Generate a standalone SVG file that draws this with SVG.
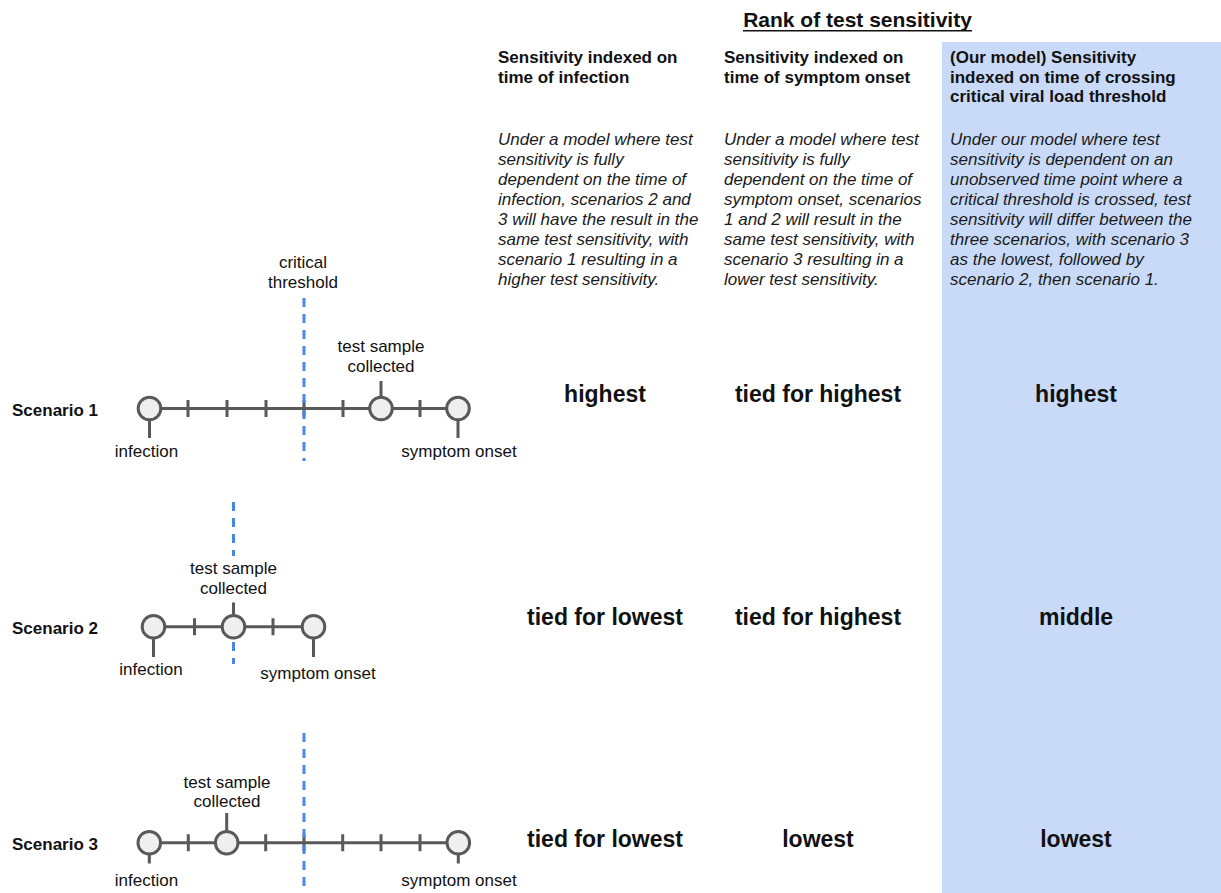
<svg xmlns="http://www.w3.org/2000/svg" width="1221" height="893" viewBox="0 0 1221 893">
<style>
  text { font-family: "Liberation Sans", Arial, sans-serif; fill: #111; }
  .lbl { font-size: 17px; }
  .mid { text-anchor: middle; }
  .scn { font-size: 17px; font-weight: bold; }
  .hdr { font-size: 17px; font-weight: bold; }
  .para { font-size: 17px; font-style: italic; fill: #1a1a1a; }
  .rank { font-size: 23px; font-weight: bold; text-anchor: middle; }
  .title { font-size: 21px; font-weight: bold; text-anchor: middle; }
  .axis { stroke: #595959; stroke-width: 3; fill: none; }
  .node { fill: #efefef; stroke: #595959; stroke-width: 3; }
  .thr { stroke: #4a86e8; stroke-width: 3; stroke-dasharray: 9 7; fill: none; }
</style>

<rect id="our-model-panel" x="942" y="42" width="279" height="851" fill="#c9daf8"/>

<g id="title">
  <text class="title" x="857.5" y="27">Rank of test sensitivity</text>
  <line x1="743" y1="30.7" x2="972" y2="30.7" stroke="#111" stroke-width="1.6"/>
</g>

<g id="col-infection">
  <text class="hdr" x="498" y="63">Sensitivity indexed on</text>
  <text class="hdr" x="498" y="83">time of infection</text>
  <text class="para" x="498" y="145">Under a model where test</text>
  <text class="para" x="498" y="165">sensitivity is fully</text>
  <text class="para" x="498" y="185">dependent on the time of</text>
  <text class="para" x="498" y="205">infection, scenarios 2 and</text>
  <text class="para" x="498" y="225">3 will have the result in the</text>
  <text class="para" x="498" y="245">same test sensitivity, with</text>
  <text class="para" x="498" y="265">scenario 1 resulting in a</text>
  <text class="para" x="498" y="285">higher test sensitivity.</text>
</g>

<g id="col-symptom">
  <text class="hdr" x="724" y="63">Sensitivity indexed on</text>
  <text class="hdr" x="724" y="83">time of symptom onset</text>
  <text class="para" x="724" y="145">Under a model where test</text>
  <text class="para" x="724" y="165">sensitivity is fully</text>
  <text class="para" x="724" y="185">dependent on the time of</text>
  <text class="para" x="724" y="205">symptom onset, scenarios</text>
  <text class="para" x="724" y="225">1 and 2 will result in the</text>
  <text class="para" x="724" y="245">same test sensitivity, with</text>
  <text class="para" x="724" y="265">scenario 3 resulting in a</text>
  <text class="para" x="724" y="285">lower test sensitivity.</text>
</g>

<g id="col-our-model">
  <text class="hdr" x="950" y="63">(Our model) Sensitivity</text>
  <text class="hdr" x="950" y="83">indexed on time of crossing</text>
  <text class="hdr" x="950" y="102">critical viral load threshold</text>
  <text class="para" x="950" y="145">Under our model where test</text>
  <text class="para" x="950" y="165">sensitivity is dependent on an</text>
  <text class="para" x="950" y="185">unobserved time point where a</text>
  <text class="para" x="950" y="205">critical threshold is crossed, test</text>
  <text class="para" x="950" y="225">sensitivity will differ between the</text>
  <text class="para" x="950" y="245">three scenarios, with scenario 3</text>
  <text class="para" x="950" y="265">as the lowest, followed by</text>
  <text class="para" x="950" y="285">scenario 2, then scenario 1.</text>
</g>

<g id="ranks">
  <text class="rank" x="605" y="402">highest</text>
  <text class="rank" x="818" y="402">tied for highest</text>
  <text class="rank" x="1076" y="402">highest</text>
  <text class="rank" x="605" y="625">tied for lowest</text>
  <text class="rank" x="818" y="625">tied for highest</text>
  <text class="rank" x="1076" y="625">middle</text>
  <text class="rank" x="605" y="847">tied for lowest</text>
  <text class="rank" x="818" y="847">lowest</text>
  <text class="rank" x="1076" y="847">lowest</text>
</g>

<g id="scenario-1">
  <text class="scn" x="12" y="416">Scenario 1</text>
  <text class="lbl mid" x="303" y="268">critical</text>
  <text class="lbl mid" x="303" y="288">threshold</text>
  <line class="axis" x1="149.5" y1="408.5" x2="458" y2="408.5"/>
  <path class="axis" d="M188 400v17M227 400v17M266 400v17M304 400v17M343 400v17M420 400v17"/>
  <path class="axis" d="M149.5 421v17M458 421v17M381 396v-15"/>
  <circle class="node" cx="149.5" cy="408.5" r="11.3"/>
  <circle class="node" cx="381" cy="408.5" r="11.3"/>
  <circle class="node" cx="458" cy="408.5" r="11.3"/>
  <line class="thr" x1="304" y1="298" x2="304" y2="461"/>
  <text class="lbl mid" x="381" y="352">test sample</text>
  <text class="lbl mid" x="381" y="372">collected</text>
  <text class="lbl mid" x="146.5" y="457">infection</text>
  <text class="lbl mid" x="459" y="457">symptom onset</text>
</g>

<g id="scenario-2">
  <text class="scn" x="12" y="634">Scenario 2</text>
  <line class="thr" x1="233.5" y1="502" x2="233.5" y2="556"/>
  <line class="thr" x1="233.5" y1="642" x2="233.5" y2="664"/>
  <line class="axis" x1="153.5" y1="626.7" x2="313.5" y2="626.7"/>
  <path class="axis" d="M194.5 618.2v17M273 618.2v17"/>
  <path class="axis" d="M153.5 639v18M313.5 639v18M233.5 614.5v-12"/>
  <circle class="node" cx="153.5" cy="626.7" r="11.3"/>
  <circle class="node" cx="233.5" cy="626.7" r="11.3"/>
  <circle class="node" cx="313.5" cy="626.7" r="11.3"/>
  <text class="lbl mid" x="233.5" y="574">test sample</text>
  <text class="lbl mid" x="233.5" y="594">collected</text>
  <text class="lbl mid" x="151" y="675">infection</text>
  <text class="lbl mid" x="318" y="679">symptom onset</text>
</g>

<g id="scenario-3">
  <text class="scn" x="12" y="850">Scenario 3</text>
  <line class="axis" x1="149.3" y1="842.7" x2="458.3" y2="842.7"/>
  <path class="axis" d="M188.3 834.2v17M265.7 834.2v17M304 834.2v17M342.7 834.2v17M381 834.2v17M420 834.2v17"/>
  <path class="axis" d="M149.3 855v8.5M458.3 855v8.5M226.7 830.5v-17.5"/>
  <circle class="node" cx="149.3" cy="842.7" r="11.3"/>
  <circle class="node" cx="226.7" cy="842.7" r="11.3"/>
  <circle class="node" cx="458.3" cy="842.7" r="11.3"/>
  <line class="thr" x1="304" y1="733" x2="304" y2="893"/>
  <text class="lbl mid" x="227" y="788">test sample</text>
  <text class="lbl mid" x="227" y="807">collected</text>
  <text class="lbl mid" x="146.5" y="886">infection</text>
  <text class="lbl mid" x="459" y="886">symptom onset</text>
</g>
</svg>
